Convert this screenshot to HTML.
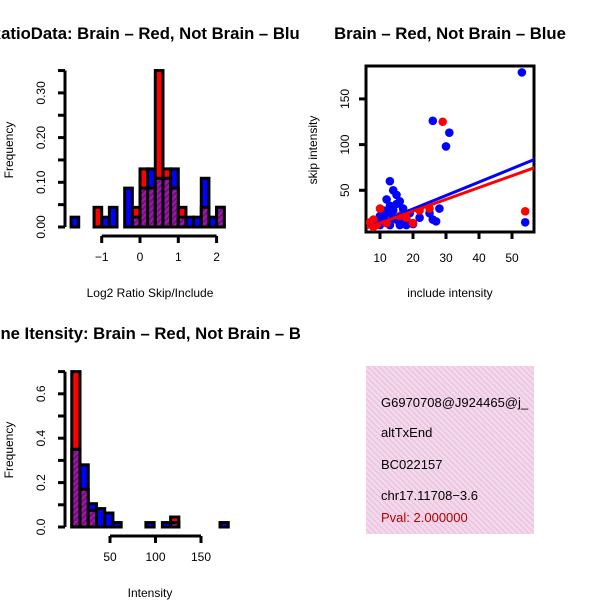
<!DOCTYPE html>
<html><head><meta charset="utf-8"><style>
body{margin:0;background:#fff}
svg text{font-family:"Liberation Sans",sans-serif}
</style></head><body>
<svg id="s" width="600" height="600" xmlns="http://www.w3.org/2000/svg">
<defs>
<clipPath id="cl"><rect x="0" y="0" width="300" height="300"/></clipPath>
<clipPath id="cl2"><rect x="0" y="300" width="300" height="300"/></clipPath>
<clipPath id="cp"><rect x="366" y="66" width="168" height="166"/></clipPath>
<clipPath id="ct"><rect x="366" y="366" width="168" height="168"/></clipPath>
<pattern id="hatch" width="4" height="4" patternUnits="userSpaceOnUse" patternTransform="rotate(45)">
<rect width="4" height="4" fill="#9a1a9a"/><rect width="1.5" height="4" fill="#6a0a8a"/></pattern>
<pattern id="pink" width="4" height="4" patternUnits="userSpaceOnUse" patternTransform="rotate(-45)">
<rect width="4" height="4" fill="#f5d8ec"/><rect width="1.5" height="4" fill="#e8c6e0"/></pattern>
</defs>
<g id="g1"></g>
<g id="g2"></g>
<g id="g3"></g>
<g>
<rect x="366" y="366" width="168" height="168" fill="url(#pink)"/>
<g clip-path="url(#ct)" font-size="13">
<text x="381" y="407">G6970708@J924465@j_</text>
<text x="381" y="437">altTxEnd</text>
<text x="381" y="469">BC022157</text>
<text x="381" y="500">chr17.11708−3.6</text>
<text x="381" y="522" fill="#b00000">Pval: 2.000000</text>
</g></g>
</svg>
<script>
// Ratio histogram data (bins of 0.2 starting at -1.8)
const ratioRed  = [0,0,0,0.044,0,0,0,0,0.044,0.13,0.087,0.35,0.13,0.087,0.044,0,0,0.044,0,0.044];
const ratioBlue = [0.022,0,0,0,0.022,0.044,0,0.087,0.022,0.087,0.13,0.109,0.109,0.13,0.022,0.022,0.022,0.109,0.022,0.044];
const ratioXTicks = [-1,0,1,2];
const ratioYTicks = [0,0.05,0.1,0.15,0.2,0.25,0.3,0.35];
const ratioYLabels = ["0.00","","0.10","","0.20","","0.30",""];
// Intensity histogram data (bins of 9 starting at 8)
const intRed  = [0.70,0.17,0.075,0,0,0,0,0,0,0,0,0,0.045,0,0,0,0,0,0];
const intBlue = [0.35,0.28,0.105,0.083,0.063,0.02,0,0,0,0.02,0,0.02,0.02,0,0,0,0,0,0.02];
const intXTicks = [50,100,150];
const intYTicks = [0,0.1,0.2,0.3,0.4,0.5,0.6,0.7];
const intYLabels = ["0.0","","0.2","","0.4","","0.6",""];
// Scatter data
const blueX = [53,26,31,30,54,13,14,15,12,16,13,17,14,12,10,11,15,16,18,20,19,22,25,26,27,28,9,10,13,16,18,20,12,14,15,17,11];
const blueY = [179,126,113,98,15,60,50,45,40,38,33,30,28,25,22,20,18,15,12,14,25,20,25,18,16,30,15,12,12,12,18,13,16,20,35,25,28];
const redX = [29,54,10,8,7,9,8,18,16,12,20,25,22];
const redY = [125,27,30,18,15,12,10,20,22,14,14,30,28];
const blueFit = [6,9,57,84];
const redFit = [6,9,57,75];
const scatXTicks = [10,20,30,40,50];
const scatYTicks = [50,100,150];

const NS="http://www.w3.org/2000/svg";
function mk(p,t,a){const e=document.createElementNS(NS,t);for(const k in a)e.setAttribute(k,a[k]);p.appendChild(e);return e;}

function hist(g,red,blue,start,w,xs,ys,yTicks,yLabels,xTicks,xLab,title,tEnd,tY,clip,xLabY,axY){
  for(let i=0;i<red.length;i++){
    const x0=xs(start+i*w),x1=xs(start+(i+1)*w);
    const r=red[i],b=blue[i],mx=Math.max(r,b),mn=Math.min(r,b);
    if(mx>0){
      const e=mk(g,'rect',{x:x0,y:ys(mx),width:x1-x0,height:ys(0)-ys(mx),fill:r>=b?'#ff0000':'#0000ff',stroke:'#000','stroke-width':3});
      
      
    }
    if(mn>0){
      const e=mk(g,'rect',{x:x0,y:ys(mn),width:x1-x0,height:ys(0)-ys(mn),fill:'url(#hatch)',stroke:'#000','stroke-width':3});
      
      
    }
  }
  const ax=mk(g,'g',{});
  
  
  mk(ax,'line',{x1:65,x2:65,y1:ys(yTicks[0]),y2:ys(yTicks[yTicks.length-1]),stroke:'#000','stroke-width':3});
  yTicks.forEach((v,i)=>{mk(ax,'line',{x1:58,x2:65,y1:ys(v),y2:ys(v),stroke:'#000','stroke-width':3});
    if(yLabels[i]){const t=mk(ax,'text',{x:0,y:0,'font-size':12,'text-anchor':'middle',transform:`translate(45,${ys(v)}) rotate(-90)`});t.textContent=yLabels[i];
      
      }});
  const xa=mk(g,'g',{});
  
  
  mk(xa,'line',{x1:xs(xTicks[0]),x2:xs(xTicks[xTicks.length-1]),y1:axY,y2:axY,stroke:'#000','stroke-width':3});
  xTicks.forEach(v=>{mk(xa,'line',{x1:xs(v),x2:xs(v),y1:axY,y2:axY+7,stroke:'#000','stroke-width':3});
    const t=mk(xa,'text',{x:xs(v),y:axY+25,'font-size':12,'text-anchor':'middle'});t.textContent=v<0?'−'+(-v):v;
    
    });
  const xl=mk(g,'text',{x:150,y:xLabY,'font-size':12,'text-anchor':'middle'});xl.textContent=xLab;
  
  
  const yl=mk(g,'text',{x:0,y:0,'font-size':12,'text-anchor':'middle',transform:`translate(13,${xLabY-147}) rotate(-90)`});yl.textContent='Frequency';
  
  
  const tt=mk(g,'text',{x:tEnd,y:tY,'font-size':16.7,'font-weight':'bold','text-anchor':'end','clip-path':clip});tt.textContent=title;
  
  
}
const g1=document.getElementById('g1');
hist(g1,ratioRed,ratioBlue,-1.8,0.2,v=>140+v*38.3,v=>227-v*447,ratioYTicks,ratioYLabels,ratioXTicks,'Log2 Ratio Skip/Include','Log2 RatioData: Brain – Red, Not Brain – Blue',309,39,'url(#cl)',297,236);
const g2=document.getElementById('g2');
hist(g2,intRed,intBlue,8,9.05,v=>64.5+v*0.91,v=>527-v*222,intYTicks,intYLabels,intXTicks,'Intensity','Gene Itensity: Brain – Red, Not Brain – Blue',325,339,'url(#cl2)',597,536);

// scatter
const g3=document.getElementById('g3');
const sx=v=>347+v*3.3, sy=v=>236-v*0.914;
mk(g3,'rect',{x:366,y:66,width:168,height:166,fill:'none',stroke:'#000','stroke-width':3});
const pts=mk(g3,'g',{'clip-path':'url(#cp)'});
blueX.forEach((v,i)=>{const c=mk(pts,'circle',{cx:sx(v),cy:sy(blueY[i]),r:4.3,fill:'#0000ff'});
  
  });
redX.forEach((v,i)=>{const c=mk(pts,'circle',{cx:sx(v),cy:sy(redY[i]),r:4.3,fill:'#ff0000'});
  
  });
const bl=mk(pts,'line',{x1:sx(blueFit[0]),y1:sy(blueFit[1]),x2:sx(blueFit[2]),y2:sy(blueFit[3]),stroke:'#0000ff','stroke-width':3});


const rl=mk(pts,'line',{x1:sx(redFit[0]),y1:sy(redFit[1]),x2:sx(redFit[2]),y2:sy(redFit[3]),stroke:'#ff0000','stroke-width':3});


scatXTicks.forEach(v=>{mk(g3,'line',{x1:sx(v),x2:sx(v),y1:232,y2:239,stroke:'#000','stroke-width':3});
  const t=mk(g3,'text',{x:sx(v),y:262,'font-size':12,'text-anchor':'middle'});t.textContent=v;
  
  });
scatYTicks.forEach(v=>{mk(g3,'line',{x1:359,x2:366,y1:sy(v),y2:sy(v),stroke:'#000','stroke-width':3});
  const t=mk(g3,'text',{x:0,y:0,'font-size':12,'text-anchor':'middle',transform:`translate(349,${sy(v)}) rotate(-90)`});t.textContent=v;
  
  });
const xt=mk(g3,'text',{x:450,y:297,'font-size':12,'text-anchor':'middle'});xt.textContent='include intensity';


const yt=mk(g3,'text',{x:0,y:0,'font-size':12,'text-anchor':'middle',transform:'translate(317,150) rotate(-90)'});yt.textContent='skip intensity';


const st=mk(g3,'text',{x:450,y:39,'font-size':16.7,'font-weight':'bold','text-anchor':'middle'});st.textContent='Brain – Red, Not Brain – Blue';


</script>
</body></html>
